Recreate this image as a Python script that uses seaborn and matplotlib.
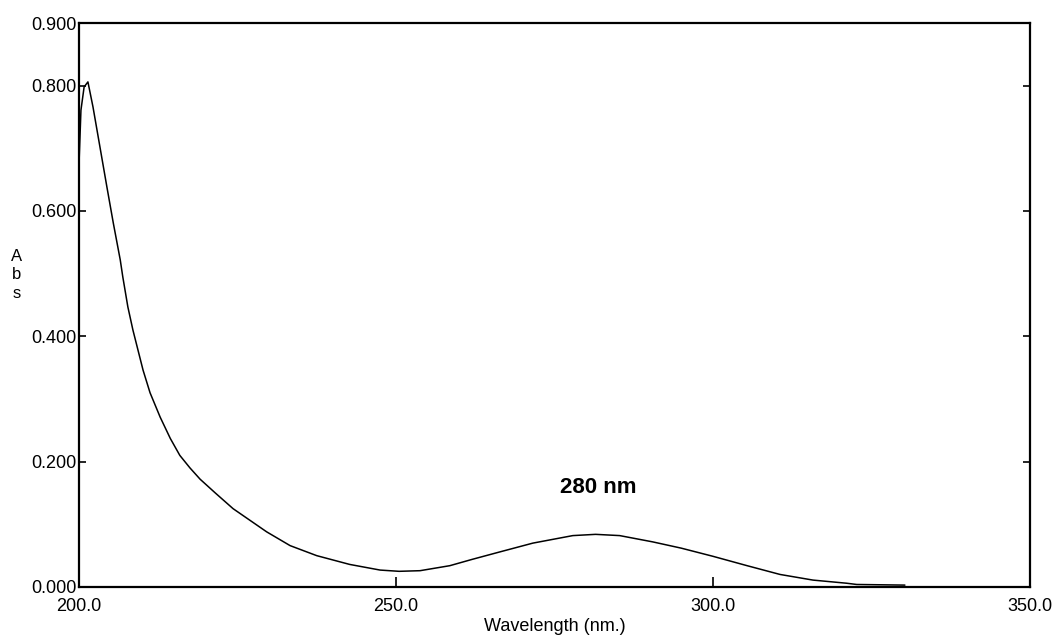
import numpy as np
import pandas as pd
import matplotlib
matplotlib.use('Agg')
import matplotlib.pyplot as plt
import seaborn as sns

# UV spectrum, values
wavelength = [200.0, 200.3, 200.8, 201.4, 202.2, 203.3, 204.4, 205.4, 206.5, 206.9,
              207.7, 208.5, 210.1, 211.2, 212.8, 214.4, 215.9, 217.5, 219.1, 221.5,
              224.3, 229.6, 233.3, 237.5, 242.7, 247.5, 250.5, 253.8, 258.5, 262.0,
              266.4, 271.6, 277.9, 281.5, 285.3, 290.5, 295.0, 300.0, 305.4, 310.6,
              315.8, 321.1, 322.7, 330.3]
absorbance = [0.677, 0.761, 0.798, 0.806, 0.766, 0.702, 0.638, 0.581, 0.522, 0.495,
              0.447, 0.410, 0.346, 0.310, 0.271, 0.237, 0.210, 0.190, 0.172, 0.150,
              0.125, 0.088, 0.066, 0.050, 0.036, 0.027, 0.025, 0.026, 0.034, 0.044,
              0.056, 0.070, 0.082, 0.084, 0.082, 0.072, 0.062, 0.049, 0.034, 0.020,
              0.011, 0.006, 0.004, 0.003]

x_ticks = [200, 250, 300, 350]
y_ticks = [0.0, 0.2, 0.4, 0.6, 0.8, 0.9]
peak_label = "280 nm"
peak_pos = (281.9, 0.158)

df = pd.DataFrame({'wl': wavelength, 'abs': absorbance})

sns.set_style("white")
plt.rcParams['font.family'] = ['Liberation Sans', 'DejaVu Sans']
plt.rcParams['text.color'] = 'black'
plt.rcParams['xtick.color'] = 'black'
plt.rcParams['ytick.color'] = 'black'
plt.rcParams['axes.labelcolor'] = 'black'

fig = plt.figure(figsize=(10.54, 6.39), dpi=100)
ax = fig.add_axes([0.075, 0.0814, 0.902, 0.8826])

sns.lineplot(data=df, x='wl', y='abs', color='black', linewidth=1.1, ax=ax)

ax.set_xlim(200, 350)
ax.set_ylim(0, 0.9)
ax.set_xticks(x_ticks)
ax.set_xticklabels([f"{v:.1f}" for v in x_ticks], fontsize=13)
ax.set_yticks(y_ticks)
ax.set_yticklabels([f"{v:.3f}" for v in y_ticks], fontsize=13)
ax.tick_params(axis='y', direction='in', length=5, width=1.2, left=True, right=True, pad=2)
ax.tick_params(axis='x', direction='in', length=7, width=1.2, bottom=True, pad=8)

for s in ax.spines.values():
    s.set_color('black')
    s.set_linewidth(1.6)

ax.set_xlabel("Wavelength (nm.)", fontsize=13, labelpad=2)
ax.set_ylabel("")
fig.text(0.016, 0.57, "A\nb\ns", ha='center', va='center', fontsize=12, linespacing=1.3)

ax.text(peak_pos[0], peak_pos[1], peak_label, ha='center', va='center',
        fontsize=16, fontweight='bold')

fig.savefig('out.png', dpi=100)
